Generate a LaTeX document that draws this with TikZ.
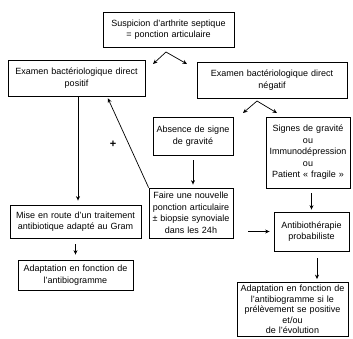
\documentclass[tikz,border=0pt]{standalone}
\usepackage{fontspec}
\setmainfont{Liberation Sans}
\usetikzlibrary{arrows.meta}
\tikzset{
    box/.style = {draw, line width=0.8pt, align=center, inner sep=0pt, font=\fontsize{9}{11.5}\selectfont},
    arr/.style = {line width=0.7pt, -{Stealth[length=4.5pt,width=4pt]}}
}
\begin{document}
\begin{tikzpicture}[x=1pt,y=-1pt]
                \useasboundingbox (0,0) rectangle (353,338);
                \node[box, text width=131pt, minimum height=35pt] (susp) at (168.5,29.5) {Suspicion d'arthrite septique\\= ponction articulaire};
                \node[box, text width=137pt, minimum height=36pt] (pos) at (76.5,78) {Examen bactériologique direct\\positif};
                \node[box, text width=150pt, minimum height=36pt] (neg) at (272,80) {Examen bactériologique direct\\négatif};
                \node[box, text width=80pt, minimum height=38pt] (abs) at (193,136) {Absence de signe\\de gravité};
                \node[box, text width=84pt, minimum height=71pt] (grav) at (308,152.5) {Signes de gravité\\ou\\Immunodépression\\ou\\Patient « fragile »};
                \node[box, text width=84pt, minimum height=50pt] (ponc) at (191,213) {Faire une nouvelle\\ponction articulaire\\± biopsie synoviale\\dans les 24h};
                \node[box, text width=75pt, minimum height=39pt] (proba) at (311.5,231.5) {Antibiothérapie\\probabiliste};
                \node[box, text width=131pt, minimum height=33pt] (gram) at (75.5,221.5) {Mise en route d'un traitement\\antibiotique adapté au Gram};
                \node[box, text width=115pt, minimum height=30pt] (adapt) at (75.5,275) {Adaptation en fonction de\\l'antibiogramme};
                \node[box, text width=111pt, minimum height=54pt, font=\fontsize{9}{10.6}\selectfont] (evol) at (292.5,309.5) {Adaptation en fonction de\\l'antibiogramme si le\\prélèvement se positive\\et/ou\\de l'évolution};
                \node[font=\fontsize{11}{11}\selectfont\bfseries] (plus) at (113,144) {+};
                \coordinate (top) at (166,52);
                \coordinate (topl) at (153,64);
                \coordinate (topr) at (187,64);
                \coordinate (mid) at (257,101);
                \coordinate (midl) at (243,113);
                \coordinate (midr) at (277,113);
                \draw[arr] (top) -- (topl);
                \draw[arr] (top) -- (topr);
                \draw[arr] (mid) -- (midl);
                \draw[arr] (mid) -- (midr);
                \draw[arr, shorten >=4pt] (pos.south -| 78,0) -- (gram.north -| 78,0);
                \draw[arr, shorten >=2pt] (ponc.north west) -- (pos.south -| 107,0);
                \draw[arr, shorten <=5pt, shorten >=3pt] (abs.south) -- (ponc.north -| abs.south);
                \draw[arr, shorten <=5pt, shorten >=2pt] (grav.south -| proba.north) -- (proba.north);
                \draw[arr, shorten <=15pt, shorten >=4pt] (ponc.east |- proba.west) -- (proba.west);
                \draw[arr, shorten <=6pt, shorten >=5pt] (gram.south) -- (adapt.north);
                \draw[arr, shorten <=7pt, shorten >=3pt] (proba.south -| 317,0) -- (evol.north -| 317,0);
            \end{tikzpicture}
\end{document}
